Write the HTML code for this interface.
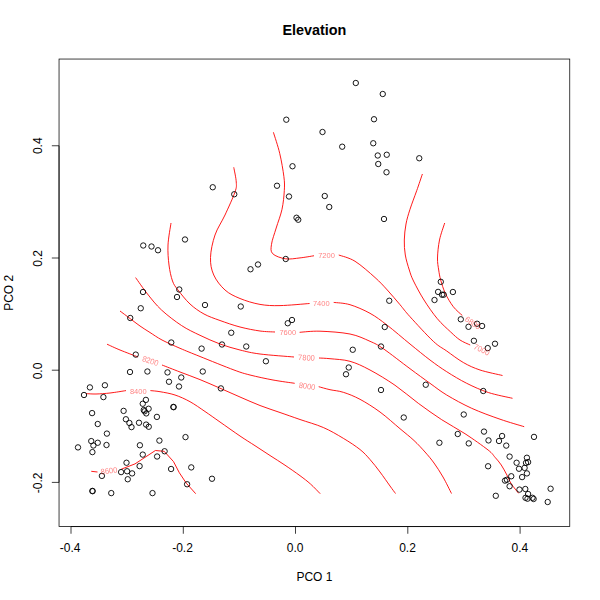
<!DOCTYPE html>
<html><head><meta charset="utf-8">
<style>
html,body{margin:0;padding:0;background:#fff;}
svg{display:block;}
#lab{position:absolute;left:0;top:0;will-change:transform;}
text{font-family:"Liberation Sans", sans-serif;}
</style></head><body>
<svg width="600" height="600" viewBox="0 0 600 600">
<rect x="0" y="0" width="600" height="600" fill="#fff"/>
<text x="314.4" y="34.8" font-size="14.4" font-weight="bold" text-anchor="middle" fill="#000">Elevation</text>
<g fill="none" stroke="#ff0000" stroke-width="0.9">
<path d="M444.70 223.00 C443.83 225.83 440.70 234.17 439.50 240.00 C438.30 245.83 437.63 253.00 437.50 258.00 C437.37 263.00 438.17 266.33 438.70 270.00 C439.23 273.67 439.60 276.12 440.70 280.00 C441.80 283.88 443.20 288.85 445.30 293.30 C447.40 297.75 450.47 303.00 453.30 306.70 C456.13 310.40 460.80 314.03 462.30 315.50"/><path d="M422.40 174.00 C421.45 176.78 418.77 184.82 416.70 190.70 C414.63 196.58 411.78 203.75 410.00 209.30 C408.22 214.85 406.95 218.88 406.00 224.00 C405.05 229.12 404.42 234.83 404.30 240.00 C404.18 245.17 404.47 250.00 405.30 255.00 C406.13 260.00 407.93 265.67 409.30 270.00 C410.67 274.33 411.05 276.00 413.50 281.00 C415.95 286.00 420.03 293.72 424.00 300.00 C427.97 306.28 432.85 313.37 437.30 318.70 C441.75 324.03 446.92 328.45 450.70 332.00 C454.48 335.55 456.75 337.83 460.00 340.00 C463.25 342.17 468.50 344.17 470.20 345.00"/><path d="M273.40 132.30 C274.45 135.80 277.95 145.90 279.70 153.30 C281.45 160.70 283.13 170.47 283.90 176.70 C284.67 182.93 284.62 185.27 284.30 190.70 C283.98 196.13 283.35 203.08 282.00 209.30 C280.65 215.52 277.95 222.17 276.20 228.00 C274.45 233.83 272.08 240.02 271.50 244.30 C270.92 248.58 270.37 251.28 272.70 253.70 C275.03 256.12 280.95 258.10 285.50 258.80 C290.05 259.50 295.25 258.41 300.00 257.90 C304.75 257.39 311.67 256.11 314.00 255.75"/><path d="M338.75 255.00 C341.46 256.04 348.96 257.50 355.00 261.25 C361.04 265.00 369.62 272.71 375.00 277.50 C380.38 282.29 383.13 285.47 387.30 290.00 C391.47 294.53 396.22 300.25 400.00 304.70 C403.78 309.15 404.45 310.60 410.00 316.70 C415.55 322.80 427.18 335.58 433.30 341.30 C439.42 347.02 441.70 347.47 446.70 351.00 C451.70 354.53 457.75 359.33 463.30 362.50 C468.85 365.67 473.47 367.83 480.00 370.00 C486.53 372.17 498.75 374.58 502.50 375.50"/><path d="M233.75 167.30 C234.17 169.75 236.04 177.88 236.25 182.00 C236.46 186.12 236.88 186.50 235.00 192.00 C233.12 197.50 228.33 207.83 225.00 215.00 C221.67 222.17 217.42 227.92 215.00 235.00 C212.58 242.08 210.71 250.83 210.50 257.50 C210.29 264.17 211.33 269.58 213.75 275.00 C216.17 280.42 220.62 286.08 225.00 290.00 C229.38 293.92 234.17 296.10 240.00 298.50 C245.83 300.90 253.33 303.22 260.00 304.40 C266.67 305.58 271.73 305.75 280.00 305.60 C288.27 305.45 304.67 303.85 309.60 303.50"/><path d="M333.70 302.40 C336.42 302.78 343.95 302.88 350.00 304.70 C356.05 306.52 363.78 309.87 370.00 313.30 C376.22 316.73 380.63 320.18 387.30 325.30 C393.97 330.42 402.88 338.22 410.00 344.00 C417.12 349.78 423.88 355.38 430.00 360.00 C436.12 364.62 440.58 367.82 446.70 371.70 C452.82 375.58 459.77 379.83 466.70 383.30 C473.63 386.77 480.67 390.00 488.30 392.50 C495.93 395.00 508.47 397.33 512.50 398.30"/><path d="M171.00 223.00 C170.50 226.67 168.33 238.00 168.00 245.00 C167.67 252.00 168.25 259.00 169.00 265.00 C169.75 271.00 171.00 276.83 172.50 281.00 C174.00 285.17 175.08 286.17 178.00 290.00 C180.92 293.83 185.67 300.00 190.00 304.00 C194.33 308.00 199.00 311.25 204.00 314.00 C209.00 316.75 214.00 318.33 220.00 320.50 C226.00 322.67 233.33 325.25 240.00 327.00 C246.67 328.75 254.17 330.17 260.00 331.00 C265.83 331.83 272.50 331.83 275.00 332.00"/><path d="M299.60 332.30 C303.00 332.12 311.60 330.92 320.00 331.20 C328.40 331.48 341.67 332.32 350.00 334.00 C358.33 335.68 364.45 338.85 370.00 341.30 C375.55 343.75 376.63 344.13 383.30 348.70 C389.97 353.27 402.22 362.93 410.00 368.70 C417.78 374.47 423.88 378.92 430.00 383.30 C436.12 387.68 439.75 390.83 446.70 395.00 C453.65 399.17 462.82 404.27 471.70 408.30 C480.58 412.33 491.25 416.13 500.00 419.20 C508.75 422.27 520.17 425.45 524.20 426.70"/><path d="M135.60 277.60 C137.58 280.33 143.18 288.60 147.50 294.00 C151.82 299.40 155.83 304.75 161.50 310.00 C167.17 315.25 175.08 321.28 181.50 325.50 C187.92 329.72 193.58 332.22 200.00 335.30 C206.42 338.38 213.33 341.55 220.00 344.00 C226.67 346.45 233.33 348.33 240.00 350.00 C246.67 351.67 251.00 352.83 260.00 354.00 C269.00 355.17 288.33 356.50 294.00 357.00"/><path d="M319.00 358.00 C320.83 358.12 324.83 358.15 330.00 358.70 C335.17 359.25 343.33 359.42 350.00 361.30 C356.67 363.18 362.50 366.01 370.00 370.00 C377.50 373.99 386.95 379.70 395.00 385.25 C403.05 390.80 410.52 397.56 418.30 403.30 C426.08 409.04 433.92 414.63 441.70 419.70 C449.48 424.77 457.27 428.65 465.00 433.70 C472.73 438.75 483.10 446.07 488.10 450.00 C493.10 453.93 492.81 454.75 495.00 457.25 C497.19 459.75 499.27 462.04 501.25 465.00 C503.23 467.96 505.23 471.88 506.90 475.00 C508.57 478.12 509.30 480.70 511.25 483.75 C513.20 486.80 517.38 491.71 518.60 493.30"/><path d="M120.00 311.00 C121.67 312.25 126.67 316.00 130.00 318.50 C133.33 321.00 136.67 323.67 140.00 326.00 C143.33 328.33 146.33 330.17 150.00 332.50 C153.67 334.83 157.00 337.37 162.00 340.00 C167.00 342.63 173.67 345.55 180.00 348.30 C186.33 351.05 191.00 352.88 200.00 356.50 C209.00 360.12 225.67 366.92 234.00 370.00 C242.33 373.08 243.50 373.33 250.00 375.00 C256.50 376.67 265.55 378.62 273.00 380.00 C280.45 381.38 291.08 382.75 294.70 383.30"/><path d="M318.70 386.70 C320.58 387.20 325.90 388.77 330.00 389.70 C334.10 390.63 338.30 390.70 343.30 392.30 C348.30 393.90 353.88 396.02 360.00 399.30 C366.12 402.58 373.33 407.10 380.00 412.00 C386.67 416.90 394.33 423.95 400.00 428.70 C405.67 433.45 409.83 436.62 414.00 440.50 C418.17 444.38 421.67 448.25 425.00 452.00 C428.33 455.75 431.00 458.83 434.00 463.00 C437.00 467.17 440.08 471.92 443.00 477.00 C445.92 482.08 450.08 490.75 451.50 493.50"/><path d="M107.00 344.20 C109.17 345.17 114.83 347.87 120.00 350.00 C125.17 352.13 135.00 355.83 138.00 357.00"/><path d="M162.00 365.00 C165.00 366.17 173.67 369.57 180.00 372.00 C186.33 374.43 193.33 376.90 200.00 379.60 C206.67 382.30 213.33 385.30 220.00 388.20 C226.67 391.10 233.33 394.12 240.00 397.00 C246.67 399.88 253.33 402.92 260.00 405.50 C266.67 408.08 273.33 410.17 280.00 412.50 C286.67 414.83 292.78 417.00 300.00 419.50 C307.22 422.00 316.08 424.37 323.30 427.50 C330.52 430.63 337.18 434.63 343.30 438.30 C349.42 441.97 355.55 445.97 360.00 449.50 C364.45 453.03 366.67 455.75 370.00 459.50 C373.33 463.25 376.67 467.58 380.00 472.00 C383.33 476.42 387.42 482.42 390.00 486.00 C392.58 489.58 394.58 492.25 395.50 493.50"/><path d="M86.00 393.60 C87.67 393.67 92.00 394.10 96.00 394.00 C100.00 393.90 105.00 393.57 110.00 393.00 C115.00 392.43 123.33 391.00 126.00 390.60"/><path d="M150.40 390.60 C152.00 390.78 155.90 390.97 160.00 391.70 C164.10 392.43 170.00 393.33 175.00 395.00 C180.00 396.67 185.00 398.95 190.00 401.70 C195.00 404.45 200.00 408.12 205.00 411.50 C210.00 414.88 214.17 417.92 220.00 422.00 C225.83 426.08 234.17 432.05 240.00 436.00 C245.83 439.95 250.00 442.45 255.00 445.70 C260.00 448.95 265.00 452.25 270.00 455.50 C275.00 458.75 280.00 461.83 285.00 465.20 C290.00 468.57 295.75 472.57 300.00 475.70 C304.25 478.83 307.13 481.00 310.50 484.00 C313.87 487.00 318.58 492.08 320.20 493.70"/><path d="M91.25 471.30 L97.50 472.00"/><path d="M121.25 469.20 L135.00 463.90 L155.40 450.50 L164.20 451.30 L173.50 461.60 L179.30 472.70 L186.30 483.20 L195.70 493.70"/>
</g>
<g fill="none" stroke="#000" stroke-width="0.9"><circle cx="355.80" cy="83.00" r="2.7"/><circle cx="382.75" cy="94.00" r="2.7"/><circle cx="286.30" cy="119.70" r="2.7"/><circle cx="374.00" cy="119.25" r="2.7"/><circle cx="322.50" cy="132.00" r="2.7"/><circle cx="373.25" cy="143.25" r="2.7"/><circle cx="342.20" cy="146.70" r="2.7"/><circle cx="377.75" cy="155.50" r="2.7"/><circle cx="386.75" cy="154.75" r="2.7"/><circle cx="419.25" cy="158.25" r="2.7"/><circle cx="378.25" cy="164.00" r="2.7"/><circle cx="386.50" cy="172.25" r="2.7"/><circle cx="292.50" cy="166.25" r="2.7"/><circle cx="277.00" cy="185.75" r="2.7"/><circle cx="289.00" cy="196.50" r="2.7"/><circle cx="324.75" cy="196.00" r="2.7"/><circle cx="329.25" cy="207.00" r="2.7"/><circle cx="212.75" cy="187.25" r="2.7"/><circle cx="234.25" cy="194.25" r="2.7"/><circle cx="384.00" cy="219.00" r="2.7"/><circle cx="296.50" cy="217.75" r="2.7"/><circle cx="298.25" cy="219.75" r="2.7"/><circle cx="185.00" cy="239.50" r="2.7"/><circle cx="143.25" cy="245.50" r="2.7"/><circle cx="151.50" cy="246.50" r="2.7"/><circle cx="158.00" cy="250.25" r="2.7"/><circle cx="285.75" cy="259.00" r="2.7"/><circle cx="258.00" cy="264.50" r="2.7"/><circle cx="250.50" cy="269.25" r="2.7"/><circle cx="143.00" cy="292.00" r="2.7"/><circle cx="179.25" cy="289.50" r="2.7"/><circle cx="177.00" cy="297.00" r="2.7"/><circle cx="205.00" cy="305.00" r="2.7"/><circle cx="140.75" cy="308.25" r="2.7"/><circle cx="240.75" cy="306.50" r="2.7"/><circle cx="130.25" cy="318.00" r="2.7"/><circle cx="292.00" cy="320.00" r="2.7"/><circle cx="287.75" cy="323.25" r="2.7"/><circle cx="231.25" cy="332.75" r="2.7"/><circle cx="171.25" cy="342.50" r="2.7"/><circle cx="222.00" cy="344.50" r="2.7"/><circle cx="246.25" cy="346.50" r="2.7"/><circle cx="201.60" cy="348.60" r="2.7"/><circle cx="135.75" cy="354.60" r="2.7"/><circle cx="352.75" cy="349.75" r="2.7"/><circle cx="265.90" cy="361.25" r="2.7"/><circle cx="348.75" cy="367.50" r="2.7"/><circle cx="346.00" cy="374.25" r="2.7"/><circle cx="130.00" cy="372.00" r="2.7"/><circle cx="147.40" cy="371.50" r="2.7"/><circle cx="167.50" cy="372.40" r="2.7"/><circle cx="202.75" cy="371.50" r="2.7"/><circle cx="181.25" cy="377.50" r="2.7"/><circle cx="169.00" cy="381.75" r="2.7"/><circle cx="179.00" cy="386.50" r="2.7"/><circle cx="220.90" cy="388.40" r="2.7"/><circle cx="381.00" cy="390.00" r="2.7"/><circle cx="425.75" cy="384.75" r="2.7"/><circle cx="403.75" cy="417.50" r="2.7"/><circle cx="389.25" cy="300.75" r="2.7"/><circle cx="384.75" cy="327.00" r="2.7"/><circle cx="381.00" cy="346.50" r="2.7"/><circle cx="440.80" cy="281.80" r="2.7"/><circle cx="438.10" cy="291.90" r="2.7"/><circle cx="442.00" cy="294.70" r="2.7"/><circle cx="443.70" cy="294.70" r="2.7"/><circle cx="452.90" cy="292.00" r="2.7"/><circle cx="434.50" cy="300.00" r="2.7"/><circle cx="460.80" cy="319.30" r="2.7"/><circle cx="468.50" cy="326.80" r="2.7"/><circle cx="477.10" cy="323.75" r="2.7"/><circle cx="482.10" cy="326.00" r="2.7"/><circle cx="473.90" cy="340.80" r="2.7"/><circle cx="487.75" cy="348.10" r="2.7"/><circle cx="495.00" cy="343.75" r="2.7"/><circle cx="483.25" cy="391.00" r="2.7"/><circle cx="463.75" cy="414.50" r="2.7"/><circle cx="439.40" cy="442.75" r="2.7"/><circle cx="457.75" cy="434.00" r="2.7"/><circle cx="468.75" cy="443.40" r="2.7"/><circle cx="484.00" cy="431.60" r="2.7"/><circle cx="488.50" cy="440.40" r="2.7"/><circle cx="488.10" cy="466.25" r="2.7"/><circle cx="502.10" cy="436.00" r="2.7"/><circle cx="499.00" cy="441.00" r="2.7"/><circle cx="506.25" cy="445.60" r="2.7"/><circle cx="534.00" cy="436.90" r="2.7"/><circle cx="509.60" cy="456.60" r="2.7"/><circle cx="516.60" cy="462.75" r="2.7"/><circle cx="519.00" cy="468.75" r="2.7"/><circle cx="526.90" cy="457.75" r="2.7"/><circle cx="526.00" cy="462.90" r="2.7"/><circle cx="528.10" cy="462.10" r="2.7"/><circle cx="524.60" cy="467.90" r="2.7"/><circle cx="526.90" cy="473.40" r="2.7"/><circle cx="522.10" cy="477.10" r="2.7"/><circle cx="511.25" cy="476.25" r="2.7"/><circle cx="505.00" cy="480.60" r="2.7"/><circle cx="506.90" cy="479.75" r="2.7"/><circle cx="509.60" cy="486.25" r="2.7"/><circle cx="519.45" cy="489.60" r="2.7"/><circle cx="525.30" cy="489.00" r="2.7"/><circle cx="528.10" cy="494.00" r="2.7"/><circle cx="525.50" cy="497.80" r="2.7"/><circle cx="527.50" cy="498.70" r="2.7"/><circle cx="532.50" cy="497.80" r="2.7"/><circle cx="533.60" cy="499.00" r="2.7"/><circle cx="550.60" cy="488.75" r="2.7"/><circle cx="547.70" cy="502.00" r="2.7"/><circle cx="495.80" cy="495.80" r="2.7"/><circle cx="89.90" cy="387.40" r="2.7"/><circle cx="104.90" cy="385.25" r="2.7"/><circle cx="84.00" cy="395.00" r="2.7"/><circle cx="103.40" cy="397.10" r="2.7"/><circle cx="92.10" cy="413.10" r="2.7"/><circle cx="123.60" cy="410.90" r="2.7"/><circle cx="125.90" cy="419.25" r="2.7"/><circle cx="129.40" cy="423.00" r="2.7"/><circle cx="131.50" cy="427.10" r="2.7"/><circle cx="97.75" cy="424.00" r="2.7"/><circle cx="106.90" cy="433.60" r="2.7"/><circle cx="91.25" cy="441.10" r="2.7"/><circle cx="97.75" cy="442.75" r="2.7"/><circle cx="93.40" cy="445.50" r="2.7"/><circle cx="106.50" cy="445.00" r="2.7"/><circle cx="78.00" cy="447.40" r="2.7"/><circle cx="92.40" cy="452.10" r="2.7"/><circle cx="145.90" cy="399.90" r="2.7"/><circle cx="142.75" cy="403.75" r="2.7"/><circle cx="148.60" cy="408.75" r="2.7"/><circle cx="143.75" cy="410.00" r="2.7"/><circle cx="144.60" cy="411.25" r="2.7"/><circle cx="146.25" cy="413.40" r="2.7"/><circle cx="156.90" cy="416.90" r="2.7"/><circle cx="173.40" cy="406.90" r="2.7"/><circle cx="173.60" cy="407.20" r="2.7"/><circle cx="139.00" cy="422.75" r="2.7"/><circle cx="146.10" cy="424.60" r="2.7"/><circle cx="148.75" cy="426.75" r="2.7"/><circle cx="185.50" cy="437.10" r="2.7"/><circle cx="159.40" cy="440.60" r="2.7"/><circle cx="139.90" cy="445.25" r="2.7"/><circle cx="164.60" cy="451.25" r="2.7"/><circle cx="142.75" cy="454.60" r="2.7"/><circle cx="157.10" cy="456.50" r="2.7"/><circle cx="126.50" cy="462.75" r="2.7"/><circle cx="121.10" cy="472.10" r="2.7"/><circle cx="127.10" cy="471.25" r="2.7"/><circle cx="132.10" cy="473.40" r="2.7"/><circle cx="127.75" cy="479.25" r="2.7"/><circle cx="101.90" cy="475.90" r="2.7"/><circle cx="92.40" cy="490.90" r="2.7"/><circle cx="92.60" cy="491.20" r="2.7"/><circle cx="111.25" cy="493.10" r="2.7"/><circle cx="139.60" cy="466.10" r="2.7"/><circle cx="171.10" cy="469.00" r="2.7"/><circle cx="191.25" cy="467.40" r="2.7"/><circle cx="187.10" cy="484.25" r="2.7"/><circle cx="152.50" cy="493.10" r="2.7"/><circle cx="212.00" cy="478.75" r="2.7"/></g>
<rect x="59.04" y="59.04" width="510.72" height="467.52" fill="none" stroke="#000" stroke-width="0.75"/>
<g stroke="#000" stroke-width="0.75" fill="none">
<path d="M71 526.56H520.1"/>
<path d="M71 526.56v7.2M183.3 526.56v7.2M295.5 526.56v7.2M407.8 526.56v7.2M520.1 526.56v7.2"/>
<path d="M59.04 482.4V145.75"/>
<path d="M59.04 482.4h-7.2M59.04 370.2h-7.2M59.04 258h-7.2M59.04 145.75h-7.2"/>
</g>
<g font-size="12" fill="#000" text-anchor="middle">
<text x="70.2" y="552">-0.4</text>
<text x="182.5" y="552">-0.2</text>
<text x="295.2" y="552">0.0</text>
<text x="407.5" y="552">0.2</text>
<text x="519.9" y="552">0.4</text>
<text x="314.4" y="580.8">PCO 1</text>
<text transform="translate(42.1 482.9) rotate(-90)">-0.2</text>
<text transform="translate(42.1 371) rotate(-90)">0.0</text>
<text transform="translate(42.1 258.5) rotate(-90)">0.2</text>
<text transform="translate(42.1 145.75) rotate(-90)">0.4</text>
<text transform="translate(13 292.8) rotate(-90)">PCO 2</text>
</g>
</svg>
<svg id="lab" width="600" height="600" viewBox="0 0 600 600">
<g font-size="8" fill="#ff0000" fill-opacity="0.5" text-anchor="middle"><text transform="translate(472.8 322.8) rotate(34) scale(0.94 1)" y="2.9">6800</text><text transform="translate(481.8 349.5) rotate(26) scale(0.94 1)" y="2.9">7000</text><text transform="translate(326.5 255.5) rotate(0) scale(0.94 1)" y="2.9">7200</text><text transform="translate(321.3 303) rotate(0) scale(0.94 1)" y="2.9">7400</text><text transform="translate(287.75 332) rotate(0) scale(0.94 1)" y="2.9">7600</text><text transform="translate(306.5 357.5) rotate(2) scale(0.94 1)" y="2.9">7800</text><text transform="translate(307.1 386) rotate(8) scale(0.94 1)" y="2.9">8000</text><text transform="translate(150.5 360.75) rotate(18) scale(0.94 1)" y="2.9">8200</text><text transform="translate(138.25 390.75) rotate(0) scale(0.94 1)" y="2.9">8400</text><text transform="translate(109 470.5) rotate(-7) scale(0.94 1)" y="2.9">8600</text></g>
</svg>
</body></html>
